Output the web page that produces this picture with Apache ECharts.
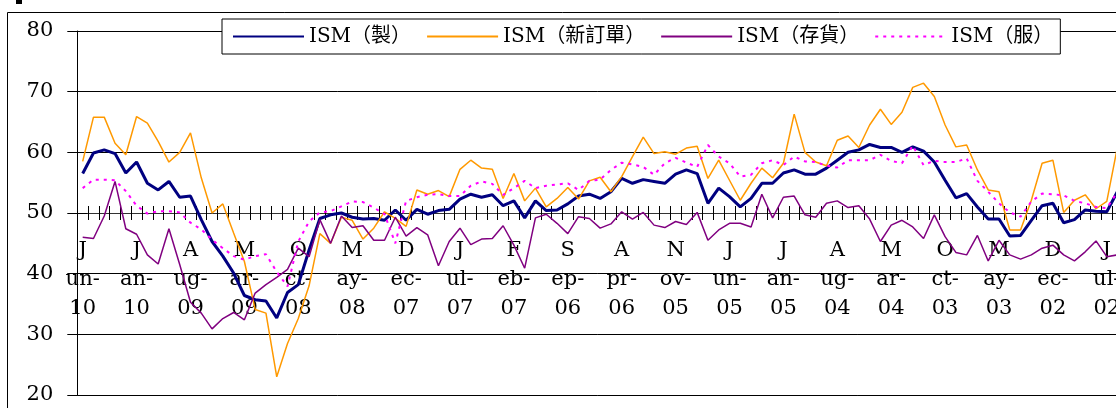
<!DOCTYPE html>
<html>
<head>
<meta charset="utf-8">
<title>ISM</title>
<script src="https://cdn.jsdelivr.net/npm/echarts@6/dist/echarts.min.js"></script>
<style>
    html, body { margin: 0; padding: 0; background: #fff; }
    #main { width: 1116px; height: 408px; }
</style>
</head>
<body>
<div id="main"></div>
<script>
// 月份 (由新到舊)
var months = [
    'Jun-10', 'May-10', 'Apr-10', 'Mar-10', 'Feb-10', 'Jan-10',
    'Dec-09', 'Nov-09', 'Oct-09', 'Sep-09', 'Aug-09', 'Jul-09', 'Jun-09', 'May-09', 'Apr-09', 'Mar-09', 'Feb-09', 'Jan-09',
    'Dec-08', 'Nov-08', 'Oct-08', 'Sep-08', 'Aug-08', 'Jul-08', 'Jun-08', 'May-08', 'Apr-08', 'Mar-08', 'Feb-08', 'Jan-08',
    'Dec-07', 'Nov-07', 'Oct-07', 'Sep-07', 'Aug-07', 'Jul-07', 'Jun-07', 'May-07', 'Apr-07', 'Mar-07', 'Feb-07', 'Jan-07',
    'Dec-06', 'Nov-06', 'Oct-06', 'Sep-06', 'Aug-06', 'Jul-06', 'Jun-06', 'May-06', 'Apr-06', 'Mar-06', 'Feb-06', 'Jan-06',
    'Dec-05', 'Nov-05', 'Oct-05', 'Sep-05', 'Aug-05', 'Jul-05', 'Jun-05', 'May-05', 'Apr-05', 'Mar-05', 'Feb-05', 'Jan-05',
    'Dec-04', 'Nov-04', 'Oct-04', 'Sep-04', 'Aug-04', 'Jul-04', 'Jun-04', 'May-04', 'Apr-04', 'Mar-04', 'Feb-04', 'Jan-04',
    'Dec-03', 'Nov-03', 'Oct-03', 'Sep-03', 'Aug-03', 'Jul-03', 'Jun-03', 'May-03', 'Apr-03', 'Mar-03', 'Feb-03', 'Jan-03',
    'Dec-02', 'Nov-02', 'Oct-02', 'Sep-02', 'Aug-02', 'Jul-02', 'Jun-02'
];

// ISM(製)
var ismMfg = [
    56.5, 59.9, 60.4, 59.8, 56.6, 58.4,
    54.9, 53.8, 55.2, 52.6, 52.8, 48.9, 45.3, 42.9, 40.1, 36.4, 35.7, 35.5,
    32.7, 36.9, 38.2, 43.9, 49.1, 49.7, 50.0, 49.3, 49.0, 49.1, 48.8, 50.5,
    48.8, 50.6, 49.8, 50.4, 50.6, 52.3, 53.1, 52.6, 53.0, 51.2, 52.0, 49.2,
    52.0, 50.4, 50.5, 51.5, 52.8, 53.1, 52.4, 53.5, 55.7, 54.9, 55.5, 55.2,
    54.9, 56.4, 57.1, 56.5, 51.6, 54.1, 52.7, 51.0, 52.4, 54.9, 54.9, 56.6,
    57.1, 56.4, 56.4, 57.4, 58.7, 60.0, 60.4, 61.3, 60.8, 60.8, 60.0, 60.9,
    60.2, 58.4, 55.4, 52.5, 53.2, 51.0, 49.0, 49.0, 46.2, 46.3, 48.8, 51.2,
    51.6, 48.4, 48.9, 50.5, 50.3, 50.2, 53.6
];

// ISM(新訂單)
var ismNewOrders = [
    58.5, 65.8, 65.8, 61.5, 59.6, 65.9,
    64.8, 61.8, 58.4, 60.0, 63.2, 55.8, 50.0, 51.5, 46.7, 42.0, 34.1, 33.5,
    23.0, 28.5, 32.6, 38.0, 46.6, 45.0, 49.3, 48.8, 45.7, 47.5, 50.2, 49.1,
    47.8, 53.8, 53.1, 53.7, 52.7, 57.2, 58.7, 57.4, 57.2, 52.4, 56.5, 52.0,
    54.1, 51.0, 52.4, 54.2, 52.3, 55.3, 55.9, 53.5, 56.0, 59.3, 62.5, 59.8,
    60.1, 59.7, 60.7, 61.0, 55.7, 58.7, 55.4, 52.1, 54.9, 57.4, 55.8, 58.2,
    66.3, 60.0, 58.4, 57.8, 62.0, 62.7, 60.8, 64.5, 67.1, 64.6, 66.6, 70.7,
    71.4, 69.2, 64.5, 60.9, 61.2, 57.1, 53.8, 53.5, 47.2, 47.2, 52.1, 58.2,
    58.7, 50.1, 52.1, 53.0, 50.7, 51.9, 61.0
];

// ISM(存貨)
var ismInventory = [
    46.0, 45.8, 49.5, 55.2, 47.4, 46.5,
    43.1, 41.6, 47.4, 41.5, 35.3, 33.5, 30.9, 32.6, 33.6, 32.4, 36.8, 38.2,
    39.4, 40.7, 44.2, 42.8, 48.9, 45.0, 49.5, 47.6, 47.9, 45.5, 45.5, 49.3,
    46.2, 47.6, 46.4, 41.3, 45.3, 47.5, 44.8, 45.7, 45.8, 47.9, 44.7, 40.9,
    49.2, 49.8, 48.3, 46.6, 49.4, 49.1, 47.5, 48.2, 50.2, 49.0, 50.1, 48.0,
    47.6, 48.6, 48.1, 50.1, 45.5, 47.2, 48.3, 48.3, 47.7, 53.1, 49.2, 52.6,
    52.8, 49.7, 49.3, 51.6, 52.0, 50.9, 51.2, 49.0, 45.3, 48.0, 48.8, 47.7,
    45.8, 49.7, 46.1, 43.5, 43.1, 46.3, 42.1, 45.5, 43.1, 42.4, 43.1, 44.2,
    44.7, 43.1, 42.1, 43.6, 45.4, 42.8, 43.1
];

// ISM(服)
var ismServices = [
    54.1, 55.5, 55.5, 55.4, 53.6, 51.2,
    49.9, 50.3, 50.3, 50.1, 48.4, 47.3, 45.6, 44.2, 42.9, 42.3, 42.9, 43.2,
    40.3, 37.9, 45.3, 48.6, 50.1, 50.3, 51.1, 51.9, 51.8, 50.9, 49.8, 45.0,
    52.0, 52.6, 53.0, 53.1, 52.8, 52.8, 54.5, 55.2, 54.8, 53.0, 54.1, 55.3,
    54.1, 54.5, 54.7, 54.9, 53.8, 55.3, 55.5, 57.1, 58.3, 58.0, 57.6, 56.3,
    58.2, 59.1, 58.3, 57.6, 61.2, 59.3, 58.2, 56.0, 56.3, 58.2, 58.7, 57.9,
    59.3, 58.5, 58.4, 57.8, 57.5, 58.7, 58.7, 58.7, 59.6, 58.6, 58.2, 61.1,
    57.9, 58.6, 58.4, 58.4, 59.0, 55.3, 53.5, 51.6, 50.1, 49.4, 51.9, 53.2,
    53.1, 52.9, 52.0, 51.6, 51.0, 50.8, 53.5
];

var seriesNames = ['ISM（製）', 'ISM（新訂單）', 'ISM（存貨）', 'ISM（服）'];

var yTicks = { min: 20, max: 80, step: 10 };

var serifFont = "'DejaVu Serif', 'Noto Sans CJK TC', serif";

function drawChart() {
    var myChart = echarts.init(document.getElementById('main'));

    var catWidth = 10.78;
    var gridTop = 31;
    var gridHeight = 364;
    // x 軸放在 50 的位置
    var axisOffset = -gridHeight * (50 - yTicks.min) / (yTicks.max - yTicks.min);

    var option = {
        animation: false,
        backgroundColor: '#fff',
        graphic: [
            {
                type: 'rect',
                shape: { x: 7.5, y: 12.5, width: 1200, height: 500 },
                style: { fill: null, stroke: '#000', lineWidth: 1 },
                z: -10
            },
            {
                type: 'rect',
                shape: { x: 16, y: 0, width: 6, height: 4 },
                style: { fill: '#000' }
            }
        ],
        legend: {
            left: 222,
            top: 19,
            padding: [7, 7, 7, 10],
            itemGap: 15,
            itemWidth: 71,
            itemHeight: 14,
            backgroundColor: '#fff',
            borderColor: '#000',
            borderWidth: 1,
            itemStyle: { opacity: 0 },
            textStyle: {
                fontFamily: serifFont,
                fontSize: 20,
                lineHeight: 21,
                color: '#000'
            },
            data: seriesNames
        },
        grid: {
            left: 77.3,
            top: gridTop,
            width: catWidth * months.length,
            height: gridHeight,
            outerBoundsMode: 'none',
            containLabel: false
        },
        xAxis: [
            {
                type: 'category',
                data: months,
                position: 'bottom',
                offset: axisOffset,
                axisLine: { onZero: false, lineStyle: { color: '#333', width: 1 } },
                axisTick: { show: true, interval: 0, inside: false, length: 7, lineStyle: { color: '#000' } },
                axisLabel: {
                    interval: 4,
                    margin: 23,
                    fontFamily: serifFont,
                    fontSize: 21,
                    lineHeight: 29,
                    color: '#000',
                    formatter: function (v) {
                        return v.charAt(0) + '\n' + v.slice(1, 3) + '-\n' + v.slice(4);
                    }
                },
                splitLine: { show: false }
            },
            {
                type: 'category',
                data: months,
                position: 'bottom',
                offset: axisOffset,
                axisLine: { show: false, onZero: false },
                axisTick: { show: true, interval: 0, inside: true, length: 7, lineStyle: { color: '#000' } },
                axisLabel: { show: false },
                splitLine: { show: false }
            }
        ],
        yAxis: [
            {
                type: 'value',
                min: yTicks.min,
                max: yTicks.max,
                interval: yTicks.step,
                axisLine: { show: true, lineStyle: { color: '#000' } },
                axisTick: { show: true, inside: false, length: 10, lineStyle: { color: '#000' } },
                axisLabel: {
                    margin: 24,
                    fontFamily: serifFont,
                    fontSize: 21,
                    color: '#000'
                },
                splitLine: { show: true, lineStyle: { color: '#000', width: 1 } }
            },
            {
                type: 'value',
                min: yTicks.min,
                max: yTicks.max,
                interval: yTicks.step,
                position: 'left',
                axisLine: { show: false },
                axisTick: { show: true, inside: true, length: 10, lineStyle: { color: '#000' } },
                axisLabel: { show: false },
                splitLine: { show: false }
            }
        ],
        series: [
            {
                name: seriesNames[0],
                type: 'line',
                data: ismMfg,
                symbol: 'none',
                color: '#000080',
                lineStyle: { color: '#000080', width: 3 }
            },
            {
                name: seriesNames[1],
                type: 'line',
                data: ismNewOrders,
                symbol: 'none',
                color: '#ff9900',
                lineStyle: { color: '#ff9900', width: 1.5 }
            },
            {
                name: seriesNames[2],
                type: 'line',
                data: ismInventory,
                symbol: 'none',
                color: '#800080',
                lineStyle: { color: '#800080', width: 1.5 }
            },
            {
                name: seriesNames[3],
                type: 'line',
                data: ismServices,
                symbol: 'none',
                color: '#ff00ff',
                lineStyle: { color: '#ff00ff', width: 2, type: [3, 5] }
            }
        ]
    };

    myChart.setOption(option);
    window.addEventListener('resize', function () { myChart.resize(); });
}

drawChart();
</script>
</body>
</html>
